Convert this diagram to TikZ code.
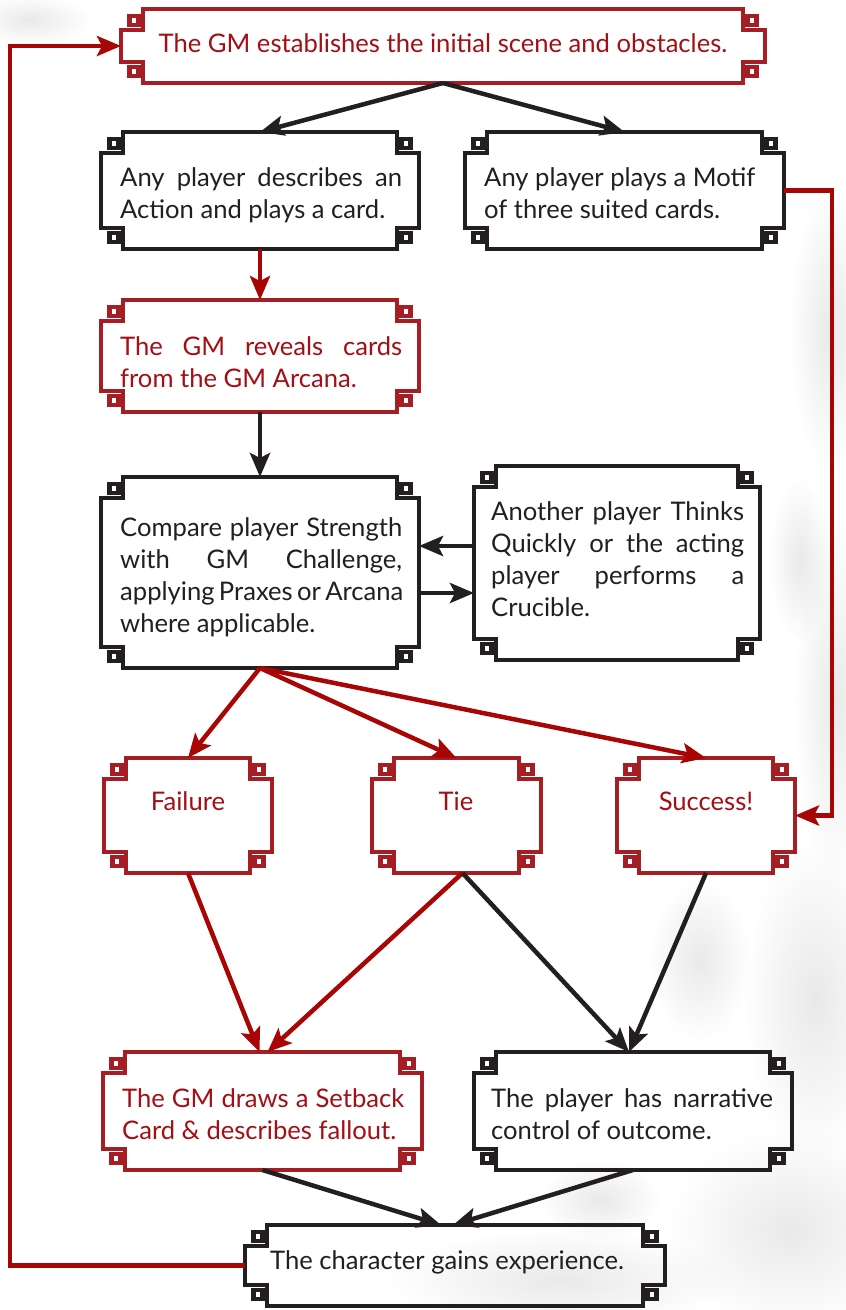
\documentclass[tikz,border=0pt]{standalone}
\usepackage{fontspec}
\setmainfont{Lato}
\usetikzlibrary{arrows.meta,calc,fadings}
\definecolor{bred}{HTML}{A51E24}
\definecolor{ared}{HTML}{A80505}
\definecolor{tred}{HTML}{A30F14}
\definecolor{ink}{HTML}{231F20}
\tikzfading[name=soft, inner color=transparent!40, outer color=transparent!100]
\tikzset{
  frameline/.style={line width=4.5pt},
  knot/.style={line width=4.5pt},
  arr/.style={line width=4.5pt, -{Stealth[length=24pt,width=20pt,inset=5pt]}},
  txt/.style={font=\fontsize{25.6}{32}\selectfont, inner sep=0pt, anchor=base west},
  ctxt/.style={font=\fontsize{25.6}{32}\selectfont, inner sep=0pt, anchor=base},
}
\newcommand\obox[6]{%
  \node[inner sep=0pt, outer sep=0pt, minimum width={(#4-#2)*1pt}, minimum height={(#5-#3)*1pt}] (#1) at ({(#2+#4)/2},{(#3+#5)/2}) {};
  \draw[frameline,#6] ($(#1.north west)+(22,0)$) -- ($(#1.north east)+(-22,0)$) -- ++(0,21) -- ++(22,0)
    -- ($(#1.south east)+(0,-21)$) -- ++(-22,0) -- ++(0,21) -- ($(#1.south west)+(22,0)$) -- ++(0,-21) -- ++(-22,0)
    -- ($(#1.north west)+(0,21)$) -- ++(22,0) -- cycle;
  \foreach \p/\dx/\dy in {north west/13/11.5, north east/-13/11.5, south east/-13/-11.5, south west/13/-11.5}
    \draw[knot,#6] ($(#1.\p)+(\dx,\dy)$) +(-4.5,-4.5) rectangle +(4.5,4.5);
}
\begin{document}
\begin{tikzpicture}[x=1pt,y=-1pt,line join=miter]
\useasboundingbox (0,0) rectangle (846,1310);
\fill[white] (0,0) rectangle (846,1310);
% faint paper texture
\foreach \x/\y/\a/\b in {830/330/40/140, 835/700/40/180, 815/1000/70/160, 790/1230/120/100, 560/1280/170/50, 30/20/60/25, 700/960/50/80, 600/1200/60/40, 800/560/30/80}
  \fill[black!14, path fading=soft] (\x,\y) ellipse ({\a} and {\b});

% boxes
\obox{A}{121}{9}{765}{83}{bred}
\obox{B}{101}{132}{419}{249}{ink}
\obox{C}{465}{132}{784}{249}{ink}
\obox{D}{101}{300}{419}{412}{bred}
\obox{E}{101}{477}{419}{668}{ink}
\obox{F}{474}{466}{760}{660}{ink}
\obox{G}{104}{758}{272}{873}{bred}
\obox{T}{372}{758}{541}{873}{bred}
\obox{S}{617}{758}{795}{873}{bred}
\obox{H}{103}{1052}{422}{1170}{bred}
\obox{I}{474}{1052}{792}{1170}{ink}
\obox{J}{245}{1225}{665}{1306}{ink}

% texts
\node[ctxt, tred] (A1) at (443,52) {The GM establishes the initial scene and obstacles.};
\node[txt, ink] (B1) at (120,186) {\makebox[282pt][s]{Any player describes an}};
\node[txt, ink] (B2) at (120,218) {Action and plays a card.};
\node[txt, ink] (C1) at (484,186) {Any player plays a Motif};
\node[txt, ink] (C2) at (484,218) {of three suited cards.};
\node[txt, tred] (D1) at (120,355) {\makebox[282pt][s]{The GM reveals cards}};
\node[txt, tred] (D2) at (120,387) {from the GM Arcana.};
\node[txt, ink] (E1) at (120,536) {\makebox[282pt][s]{Compare player Strength}};
\node[txt, ink] (E2) at (120,568) {\makebox[282pt][s]{with GM Challenge,}};
\node[txt, ink] (E3) at (120,600) {\makebox[282pt][s]{applying Praxes or Arcana}};
\node[txt, ink] (E4) at (120,632) {where applicable.};
\node[txt, ink] (F1) at (491,520) {\makebox[253pt][s]{Another player Thinks}};
\node[txt, ink] (F2) at (491,552) {\makebox[253pt][s]{Quickly or the acting}};
\node[txt, ink] (F3) at (491,584) {\makebox[253pt][s]{player performs a}};
\node[txt, ink] (F4) at (491,616) {Crucible.};
\node[ctxt, tred] (G1) at (188,810) {Failure};
\node[ctxt, tred] (T1) at (456,810) {Tie};
\node[ctxt, tred] (S1) at (706,810) {Success!};
\node[txt, tred] (H1) at (122,1107) {\makebox[282pt][s]{The GM draws a Setback}};
\node[txt, tred] (H2) at (122,1139) {Card \& describes fallout.};
\node[txt, ink] (I1) at (491,1107) {\makebox[282pt][s]{The player has narrative}};
\node[txt, ink] (I2) at (491,1139) {control of outcome.};
\node[txt, ink] (J1) at (270,1269) {The character gains experience.};

% connectors
\coordinate (yA) at (0,546);
\coordinate (yB) at (0,593);
\draw[arr, ink] (A.south) -- (B.north);
\draw[arr, ink] (A.south) -- (C.north);
\draw[arr, ared] (B.south) -- (D.north);
\draw[arr, ink] (D.south) -- (E.north);
\draw[arr, ink] (F.west |- yA) -- (E.east |- yA);
\draw[arr, ink] (E.east |- yB) -- (F.west |- yB);
\draw[arr, ared] (E.south) -- (G.north);
\draw[arr, ared] (E.south) -- (T.north);
\draw[arr, ared] (E.south) -- (S.north);
\draw[arr, ared] (C.east) -- ++(48,0) |- (S.east);
\draw[arr, ared] (G.south) -- ([xshift=-3pt]H.north);
\draw[arr, ared] ([xshift=6pt]T.south) -- ([xshift=5pt]H.north);
\draw[arr, ink] ([xshift=6pt]T.south) -- ([xshift=-4pt]I.north);
\draw[arr, ink] (S.south) -- ([xshift=-4pt]I.north);
\draw[arr, ink] (H.south) -- ([xshift=-14pt]J.north);
\draw[arr, ink] (I.south) -- ([xshift=-2pt]J.north);
\draw[arr, ared] (J.west) -- ++(-235,0) |- (A.west);
\end{tikzpicture}
\end{document}
